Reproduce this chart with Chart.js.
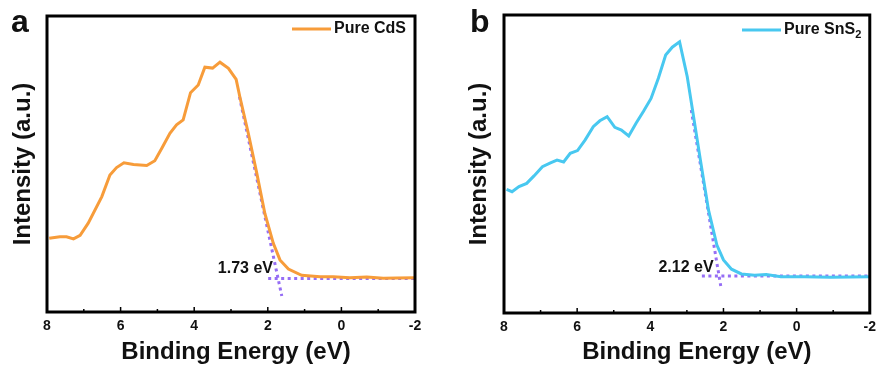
<!DOCTYPE html>
<html>
<head>
<meta charset="utf-8">
<script src="https://cdn.jsdelivr.net/npm/chart.js@4.4.1/dist/chart.umd.min.js"></script>
<style>
    html, body { margin: 0; padding: 0; background: #fff; }
    .panel { position: absolute; top: 0; width: 441px; height: 370px; }
</style>
</head>
<body>
<div class="panel" style="left:0"><canvas id="chartA" width="441" height="370"></canvas></div>
<div class="panel" style="left:441px"><canvas id="chartB" width="441" height="370"></canvas></div>
<script>
// binding energy (eV) and intensity (a.u.)
const energyA = [7.94, 7.65, 7.47, 7.28, 7.10, 6.88, 6.51, 6.29, 6.11, 5.91, 5.65, 5.29, 5.07, 4.88, 4.66, 4.48, 4.30, 4.10, 3.89, 3.71, 3.50, 3.30, 3.07, 2.86, 2.76, 2.53, 2.30, 2.08, 1.85, 1.67, 1.44, 1.08, 0.58, 0.22, -0.23, -0.69, -1.14, -1.50, -2.0];
const intensityA = [24.9, 25.4, 25.4, 24.7, 25.9, 30.0, 39.0, 46.3, 48.8, 50.4, 49.8, 49.5, 51.1, 55.3, 60.4, 63.2, 64.9, 74.1, 76.7, 82.7, 82.4, 84.4, 82.3, 78.6, 72.7, 60.4, 46.9, 33.3, 23.2, 17.6, 14.5, 12.4, 11.9, 11.9, 11.6, 11.8, 11.4, 11.5, 11.6];
const tangentA = { energy: [2.77, 1.62], intensity: [72.7, 5.4] };
const baselineA = { energy: [1.99, -2.0], intensity: [11.3, 11.3] };

const energyB = [7.93, 7.78, 7.59, 7.38, 7.18, 6.95, 6.73, 6.55, 6.37, 6.19, 5.99, 5.78, 5.56, 5.38, 5.18, 4.97, 4.79, 4.59, 4.39, 4.19, 3.98, 3.78, 3.58, 3.40, 3.20, 2.99, 2.86, 2.63, 2.41, 2.18, 2.00, 1.78, 1.51, 1.15, 0.83, 0.43, -0.21, -0.93, -2.0];
const intensityB = [41.5, 40.7, 42.4, 43.5, 46.0, 49.1, 50.4, 51.3, 50.7, 53.6, 54.5, 58.1, 62.5, 64.5, 65.9, 62.3, 61.4, 59.4, 63.7, 67.6, 72.0, 78.8, 86.6, 89.2, 91.0, 79.3, 69.2, 51.3, 34.6, 22.8, 17.8, 14.7, 13.1, 12.7, 12.9, 12.2, 12.2, 12.0, 12.2];
const tangentB = { energy: [2.88, 2.06], intensity: [68.1, 8.0] };
const baselineB = { energy: [2.59, -2.0], intensity: [12.4, 12.4] };

const xTicks = [8, 6, 4, 2, 0, -2];
const minorTicks = [7, 5, 3, 1, -1];

const FONT = "'Liberation Sans', Arial, sans-serif";
const DOTS = 'rgb(150, 110, 245)';

function toPoints(xs, ys) {
    return xs.map((x, i) => ({ x: x, y: ys[i] }));
}

// frame, inner ticks, titles, legend, gap label
const decorPlugin = {
    id: 'decor',
    afterDraw(chart) {
        const o = chart.options.plugins.decor;
        const ctx = chart.ctx;
        const a = chart.chartArea;
        const xs = chart.scales.x;
        const ys = chart.scales.y;
        ctx.save();

        ctx.strokeStyle = '#000';
        ctx.lineWidth = 1.5;
        xTicks.forEach(t => {
            const px = xs.getPixelForValue(t);
            ctx.beginPath(); ctx.moveTo(px, a.bottom); ctx.lineTo(px, a.bottom - 5); ctx.stroke();
        });
        minorTicks.forEach(t => {
            const px = xs.getPixelForValue(t);
            ctx.beginPath(); ctx.moveTo(px, a.bottom); ctx.lineTo(px, a.bottom - 3); ctx.stroke();
        });
        ctx.lineWidth = 3;
        ctx.strokeRect(a.left, a.top, a.right - a.left, a.bottom - a.top);

        ctx.fillStyle = '#111';
        ctx.font = 'bold 32px ' + FONT;
        ctx.textAlign = 'left';
        ctx.textBaseline = 'alphabetic';
        ctx.fillText(o.letter, o.letterX, 32);

        ctx.font = 'bold 24px ' + FONT;
        ctx.textAlign = 'center';
        ctx.textBaseline = 'middle';
        ctx.fillText('Binding Energy (eV)', (a.left + a.right) / 2 + o.titleShift, 352);
        ctx.save();
        ctx.translate(o.yTitleX, (a.top + a.bottom) / 2);
        ctx.rotate(-Math.PI / 2);
        ctx.fillText('Intensity (a.u.)', 0, 0);
        ctx.restore();

        // legend
        ctx.strokeStyle = o.color;
        ctx.lineWidth = 3;
        ctx.beginPath();
        ctx.moveTo(o.legendX, o.legendY);
        ctx.lineTo(o.legendX + 39, o.legendY);
        ctx.stroke();
        ctx.font = 'bold 16px ' + FONT;
        ctx.textAlign = 'left';
        ctx.textBaseline = 'middle';
        ctx.fillText(o.legendText, o.legendX + 42, o.legendY);
        if (o.legendSub) {
            const w = ctx.measureText(o.legendText).width;
            ctx.font = 'bold 11px ' + FONT;
            ctx.fillText(o.legendSub, o.legendX + 42 + w, o.legendY + 5);
        }

        // band gap label
        ctx.font = 'bold 16px ' + FONT;
        ctx.textAlign = 'right';
        ctx.textBaseline = 'middle';
        ctx.fillText(o.gapText, xs.getPixelForValue(o.gapAt[0]), ys.getPixelForValue(o.gapAt[1]));
        ctx.restore();
    }
};

function makePanel(id, energy, intensity, color, tangent, baseline, decor, pad) {
    const config = {
        type: 'line',
        data: {
            datasets: [
                {
                    data: toPoints(energy, intensity),
                    borderColor: color,
                    borderWidth: 3,
                    pointRadius: 0,
                    tension: 0,
                },
                {
                    data: toPoints(tangent.energy, tangent.intensity),
                    borderColor: DOTS,
                    borderWidth: 3,
                    borderDash: [3, 3.5],
                    pointRadius: 0,
                },
                {
                    data: toPoints(baseline.energy, baseline.intensity),
                    borderColor: DOTS,
                    borderWidth: 3,
                    borderDash: [3, 3.5],
                    pointRadius: 0,
                },
            ],
        },
        options: {
            responsive: false,
            animation: false,
            layout: { padding: { left: 0, right: pad.right, top: pad.top, bottom: 0 } },
            plugins: {
                legend: { display: false },
                tooltip: { enabled: false },
                decor: Object.assign({ color: color }, decor),
            },
            scales: {
                x: {
                    type: 'linear',
                    reverse: true,
                    min: -2,
                    max: 8,
                    grid: { display: false, drawTicks: false },
                    border: { display: false },
                    afterBuildTicks: scale => { scale.ticks = xTicks.map(v => ({ value: v })); },
                    afterFit: scale => { scale.height = pad.bottom; },
                    ticks: {
                        color: '#111',
                        padding: 6,
                        maxRotation: 0,
                        font: { family: FONT, size: 14, weight: 'bold' },
                    },
                },
                y: {
                    min: 0,
                    max: 100,
                    grid: { display: false, drawTicks: false },
                    border: { display: false },
                    ticks: { display: false },
                    afterFit: scale => { scale.width = pad.left; },
                },
            },
        },
        plugins: [decorPlugin],
    };
    return new Chart(document.getElementById(id), config);
}

makePanel('chartA', energyA, intensityA, 'rgb(247, 156, 58)', tangentA, baselineA, {
    letter: 'a', letterX: 11, titleShift: 5, yTitleX: 23,
    legendX: 292, legendY: 29, legendText: 'Pure CdS',
    gapText: '1.73 eV', gapAt: [1.86, 14.5],
}, { left: 47, right: 26, top: 16, bottom: 58 });

makePanel('chartB', energyB, intensityB, 'rgb(72, 200, 240)', tangentB, baselineB, {
    letter: 'b', letterX: 29, titleShift: 10, yTitleX: 38,
    legendX: 301, legendY: 30, legendText: 'Pure SnS', legendSub: '2',
    gapText: '2.12 eV', gapAt: [2.27, 15.4],
}, { left: 63, right: 8, top: 15, bottom: 57 });
</script>
</body>
</html>
